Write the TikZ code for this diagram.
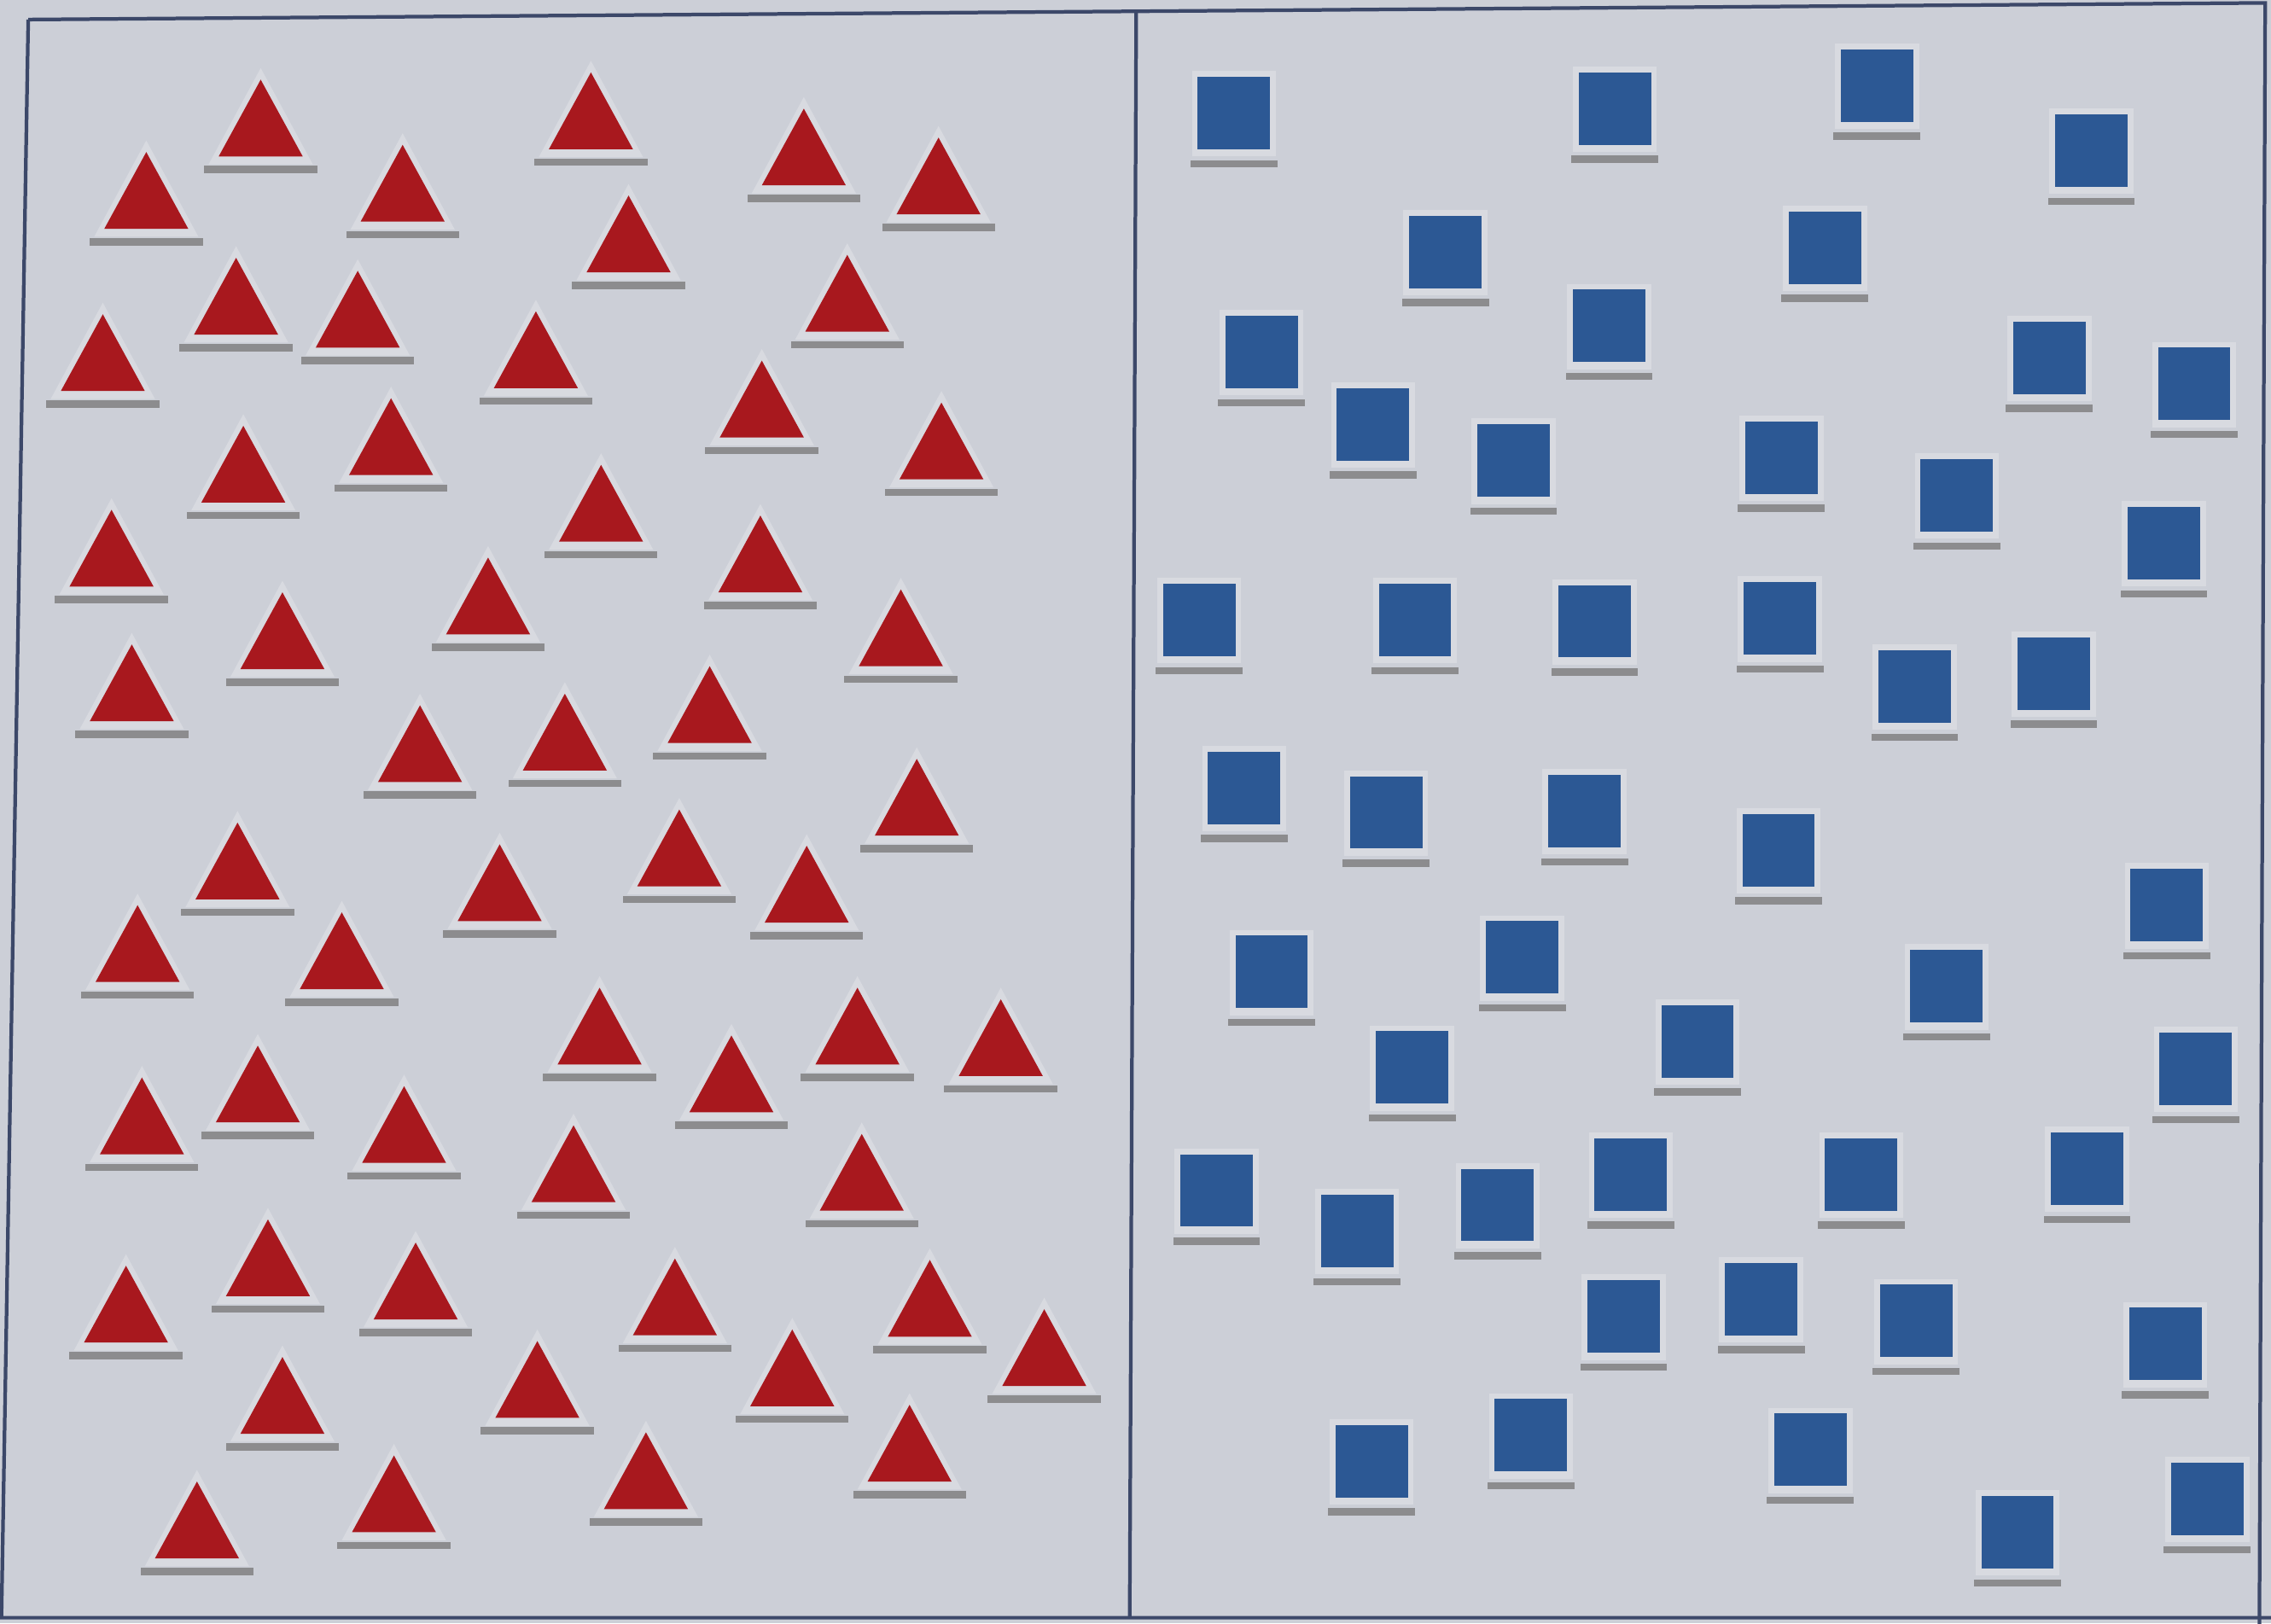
\documentclass[tikz,border=0pt]{standalone}
\usepackage{tikz}
\definecolor{bgc}{RGB}{204,207,215}
\definecolor{redc}{RGB}{168,24,30}
\definecolor{bluec}{RGB}{44,88,148}
\definecolor{barc}{RGB}{140,140,142}
\definecolor{halo}{RGB}{216,218,224}
\definecolor{framec}{RGB}{60,72,105}
\newcommand\mytri[2]{%
  \fill[halo] (#1-36,#2-3.5) -- (#1+36,#2-3.5) -- (#1,#2-70) -- cycle;
  \fill[redc] (#1-29,#2-9) -- (#1+29,#2-9) -- (#1,#2-62) -- cycle;
  \fill[barc] (#1-39,#2-2.5) rectangle (#1+39,#2+2.5);}
\newcommand\mysq[2]{%
  \fill[halo] (#1-29,#2-64) rectangle (#1+29,#2-5);
  \fill[bluec] (#1-25,#2-60) rectangle (#1+25,#2-10);
  \fill[barc] (#1-30,#2-2.5) rectangle (#1+30,#2+2.5);}
\begin{document}
\begin{tikzpicture}[x=0.01cm,y=-0.01cm]
\fill[bgc] (0,0) rectangle (1568,1121);
\useasboundingbox (0,0) rectangle (1568,1121);
\begin{scope}
\clip (0,0) rectangle (1568,1121);
\draw[framec,line width=0.25mm] (19.5,13.5) -- (1564,2) -- (1560,1125);
\draw[framec,line width=0.25mm] (19.5,13.5) -- (1,1117) -- (1568,1117);
\draw[framec,line width=0.25mm] (784.5,8) -- (780,1117);
\end{scope}
% triangles
\foreach \x/\y in {180/117,101/167,278/162,408/112,555/137,648/157,434/197,
163/240,247/249,71/279,370/277,585/238,526/311,650/340,168/356,270/337,
415/383,77/414,525/418,337/447,195/471,622/469,91/507,490/522,290/549,
390/541,633/586,164/630,345/645,469/621,557/646,95/687,236/692,414/744,
592/744,691/752,505/777,178/784,98/806,279/812,396/839,595/845,185/904,
287/920,87/936,466/931,642/932,721/966,371/988,547/980,195/999,628/1032,
446/1051,272/1067,136/1085}{\mytri{\x}{\y}}
% squares
\foreach \x/\y in {852/113,1115/110,1296/94,1444/139,998/209,1260/206,
871/278,1111/260,1415/282,1515/300,948/328,1045/353,1230/351,1351/377,
1494/410,828/463,977/463,1101/464,1229/462,1322/509,1418/500,859/579,
957/596,1094/595,1228/622,1496/660,878/706,1051/696,1344/716,975/772,
1172/754,1516/773,840/857,937/885,1034/867,1126/846,1285/846,1441/842,
1121/944,1216/932,1323/947,1495/963,947/1044,1057/1026,1250/1036,
1393/1093,1524/1070}{\mysq{\x}{\y}}
\end{tikzpicture}
\end{document}
